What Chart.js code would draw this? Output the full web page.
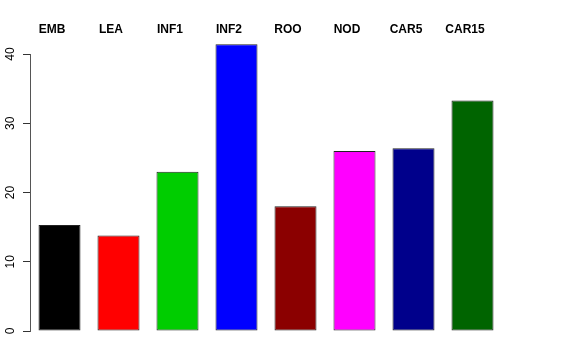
<!DOCTYPE html>
<html>
<head>
<meta charset="utf-8">
<script src="https://cdn.jsdelivr.net/npm/chart.js@4"></script>
<style>
  html, body { margin: 0; padding: 0; background: #fff; }
  #wrap { width: 576px; height: 360px; }
</style>
</head>
<body>
<div id="wrap"><canvas id="barChart" width="576" height="360"></canvas></div>
<script>
const categories = ['EMB', 'LEA', 'INF1', 'INF2', 'ROO', 'NOD', 'CAR5', 'CAR15'];
const values = [15.3, 13.8, 23.0, 41.4, 18.0, 26.0, 26.4, 33.3];
const barColors = ['#000000', '#ff0000', '#00cd00', '#0000ff', '#8b0000', '#ff00ff', '#00008b', '#006400'];
const yTicks = [0, 10, 20, 30, 40];

const ctx = document.getElementById('barChart').getContext('2d');
new Chart(ctx, {
    type: 'bar',
    data: {
        labels: categories,
        datasets: [{
            data: values,
            backgroundColor: barColors,
            borderColor: '#222',
            borderWidth: 1,
            borderSkipped: false,
            barPercentage: 0.712,
            categoryPercentage: 1,
            clip: false
        }]
    },
    options: {
        responsive: false,
        animation: false,
        layout: { padding: { top: 5.6, right: 74, bottom: 29, left: 0 } },
        plugins: { legend: { display: false }, tooltip: { enabled: false } },
        scales: {
            x: {
                position: 'top',
                grid: { display: false, drawTicks: false },
                border: { display: false },
                ticks: {
                    labelOffset: -7.5,
                    padding: 17,
                    color: '#000',
                    font: { family: 'Liberation Sans, Arial, sans-serif', size: 12, weight: 'bold' }
                }
            },
            y: {
                min: 0,
                max: 40,
                afterBuildTicks: function(scale) {
                    scale.ticks = yTicks.map(v => ({ value: v }));
                },
                afterFit: function(scale) { scale.width = 30; },
                grid: { drawOnChartArea: false, tickLength: 7, color: '#333' },
                border: { display: true, color: '#555' },
                ticks: {
                    minRotation: 90,
                    maxRotation: 90,
                    crossAlign: 'center',
                    padding: 6,
                    color: '#000',
                    font: { family: 'Liberation Sans, Arial, sans-serif', size: 12 }
                }
            }
        }
    }
});
</script>
</body>
</html>
